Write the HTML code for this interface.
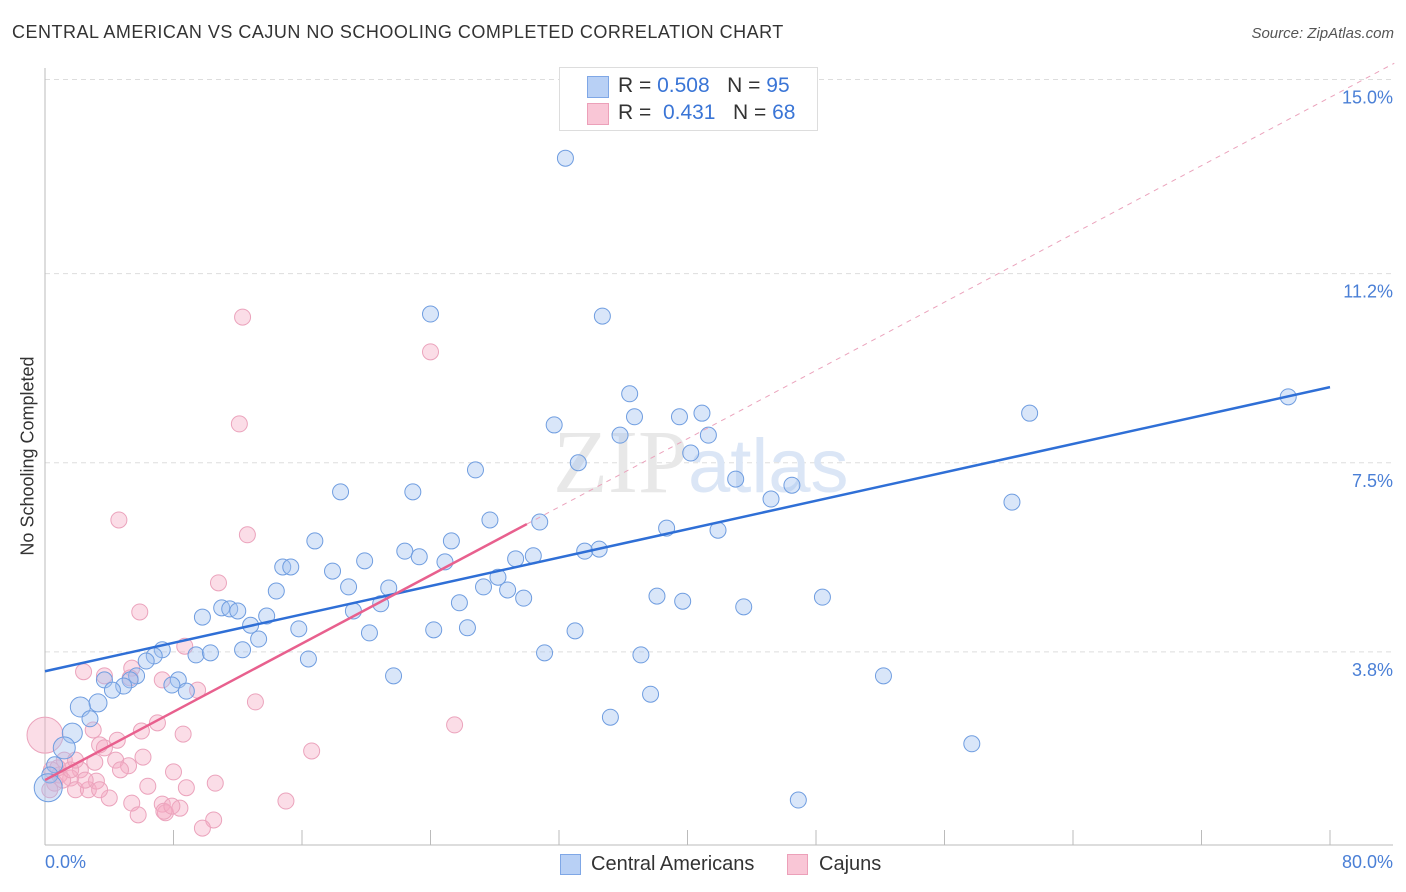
<!DOCTYPE html>
<html><head><meta charset="utf-8"><style>
body{margin:0;background:#fff;font-family:"Liberation Sans",sans-serif;}
#wrap{position:relative;width:1406px;height:892px;overflow:hidden;}
.t{position:absolute;white-space:nowrap;}
</style></head><body>
<div id="wrap">
<div class="t" style="left:12px;top:22px;font-size:18px;color:#333;letter-spacing:0.5px;">CENTRAL AMERICAN VS CAJUN NO SCHOOLING COMPLETED CORRELATION CHART</div>
<div class="t" style="right:12px;top:25px;font-size:15px;color:#555;font-style:italic;">Source: ZipAtlas.com</div>
<svg id="svg" width="1406" height="892" style="position:absolute;left:0;top:0"></svg>
<div class="t" style="left:28px;top:456px;font-size:18px;color:#333;transform:translate(-50%,-50%) rotate(-90deg);">No Schooling Completed</div>
<div class="t" style="left:45px;top:852px;font-size:18px;color:#4a7fd6;">0.0%</div>
<div class="t" style="right:13px;top:852px;font-size:18px;color:#4a7fd6;">80.0%</div>
<div style="position:absolute;left:559px;top:67px;width:257px;height:62px;border:1px solid #ddd;background:#fff;">
 <div style="position:absolute;left:27px;top:8px;width:20px;height:20px;background:#b8d0f5;border:1px solid #7fa7e6;"></div>
 <div class="t" style="left:58px;top:6px;font-size:21px;color:#333;">R = <span style="color:#3a75d6">0.508</span>&nbsp;&nbsp;&nbsp;N = <span style="color:#3a75d6">95</span></div>
 <div style="position:absolute;left:27px;top:35px;width:20px;height:20px;background:#f9c6d6;border:1px solid #eca0b9;"></div>
 <div class="t" style="left:58px;top:33px;font-size:21px;color:#333;">R = &nbsp;<span style="color:#3a75d6">0.431</span>&nbsp;&nbsp;&nbsp;N = <span style="color:#3a75d6">68</span></div>
</div>
<div style="position:absolute;left:560px;top:853px;">
 <div style="position:absolute;left:0;top:1px;width:19px;height:19px;background:#b8d0f5;border:1px solid #7fa7e6;"></div>
 <div class="t" style="left:31px;top:0;font-size:20px;color:#333;">Central Americans</div>
 <div style="position:absolute;left:227px;top:1px;width:19px;height:19px;background:#f9c6d6;border:1px solid #eca0b9;"></div>
 <div class="t" style="left:259px;top:0;font-size:20px;color:#333;">Cajuns</div>
</div>
</div>
<script>
const blueX=[32.4,24.0,34.7,36.4,31.7,36.7,35.8,39.5,40.9,41.3,40.2,33.2,26.8,43.0,45.2,46.5,61.3,77.4,60.2,18.4,22.9,27.7,30.8,38.7,41.9,16.8,22.4,23.3,25.3,19.9,24.9,29.3,30.4,33.6,34.5,14.8,15.3,17.9,28.2,18.9,21.4,27.3,28.8,14.4,38.1,39.7,48.4,43.5,29.8,25.8,20.9,19.2,9.8,11.0,11.5,12.0,13.8,12.8,15.8,24.2,26.3,20.2,13.3,33.0,7.3,6.8,6.3,9.4,10.3,12.3,16.4,31.1,37.1,5.7,5.3,3.7,4.9,8.3,7.9,8.8,4.2,3.3,2.2,2.8,1.7,1.2,21.7,37.7,35.2,52.2,57.7,46.9,0.6,0.3,0.2];
const blueY=[13.46,10.41,10.37,8.85,8.24,8.40,8.04,8.40,8.47,8.04,7.69,7.50,7.36,7.18,6.79,7.06,8.47,8.79,6.73,6.93,6.93,6.38,6.34,6.22,6.18,5.97,5.77,5.66,5.97,5.58,5.56,5.62,5.68,5.77,5.81,5.46,5.46,5.38,5.26,5.07,5.05,5.07,5.01,4.99,4.89,4.79,4.87,4.68,4.85,4.76,4.74,4.60,4.48,4.66,4.64,4.60,4.50,4.32,4.25,4.23,4.27,4.17,4.05,4.21,3.84,3.72,3.62,3.74,3.78,3.84,3.66,3.78,3.74,3.33,3.25,3.25,3.13,3.25,3.15,3.03,3.05,2.80,2.72,2.49,2.21,1.92,3.33,2.97,2.52,3.33,2.00,0.90,1.59,1.39,1.14];
const pinkX=[12.3,24.0,12.1,4.6,12.6,10.8,5.9,8.7,2.4,3.7,5.4,5.3,7.3,9.5,13.1,25.5,16.6,3.0,4.5,7.0,6.0,8.6,3.4,3.7,4.4,5.2,6.1,3.1,2.2,1.6,0.9,0.6,0.0,1.2,1.9,2.7,3.2,2.5,4.0,5.4,6.4,8.0,8.8,10.6,7.3,7.5,8.4,5.8,7.4,7.9,10.5,9.8,15.0,0.4,0.8,1.1,1.6,4.7,3.4,0.3,1.9];
const pinkY=[10.35,9.67,8.26,6.38,6.09,5.15,4.58,3.91,3.41,3.33,3.48,3.29,3.25,3.05,2.82,2.37,1.86,2.27,2.07,2.41,2.25,2.19,1.98,1.92,1.68,1.57,1.74,1.64,1.49,1.33,1.39,1.23,2.17,1.68,1.10,1.10,1.27,1.29,0.94,0.84,1.17,1.45,1.14,1.23,0.82,0.65,0.74,0.61,0.68,0.78,0.51,0.35,0.88,1.49,1.53,1.29,1.49,1.49,1.10,1.10,1.68];
const blueR=new Array(blueX.length).fill(8);blueR[94]=14;blueR[85]=11;blueR[84]=10;blueR[82]=10;blueR[81]=9;
const pinkR=new Array(pinkX.length).fill(8);pinkR[32]=18;
const yTicks=[3.8,7.5,11.2,15.0];
const yTickLabels=["3.8%","7.5%","11.2%","15.0%"];
const blueTrend=[[0,3.42],[80,8.98]];
const pinkTrend=[[0,1.29],[30,6.3]];
const xs=v=>45+v*1285/80, ys=v=>846-v*51.1;
const svg=document.getElementById('svg');const NS='http://www.w3.org/2000/svg';
function mk(t,a){const e=document.createElementNS(NS,t);for(const k in a)e.setAttribute(k,a[k]);svg.appendChild(e);return e;}
yTicks.forEach((v,i)=>{
 const g=mk('line',{x1:45,x2:1393,y1:ys(v),y2:ys(v),stroke:'#ddd','stroke-dasharray':'5,4'});
 
 
 const t=mk('text',{x:1393,y:ys(v)+24,'text-anchor':'end','font-size':18,fill:'#4a7fd6','font-family':'Liberation Sans'});
 t.textContent=yTickLabels[i];
 
 
});
const wm=mk('text',{x:553,y:492,'font-size':90,fill:'#e8e8e8','font-family':'Liberation Serif'});
wm.innerHTML='ZIP<tspan font-family="Liberation Sans" fill="#dbe6f6" font-size="76">atlas</tspan>';


const ax=mk('line',{x1:45,x2:45,y1:68,y2:845,stroke:'#bbb'});


const bx=mk('line',{x1:45,x2:1393,y1:845,y2:845,stroke:'#bbb'});


for(let i=0;i<=10;i++){const tk=mk('line',{x1:xs(i*8),x2:xs(i*8),y1:830,y2:845,stroke:'#bbb'});
 
 }
pinkX.forEach((x,i)=>{const c=mk('circle',{cx:xs(x),cy:ys(pinkY[i]),r:pinkR[i],fill:'rgba(245,170,195,0.4)',stroke:'#eba3bc','stroke-width':1});
 
 });
blueX.forEach((x,i)=>{const c=mk('circle',{cx:xs(x),cy:ys(blueY[i]),r:blueR[i],fill:'rgba(160,192,240,0.4)',stroke:'#6f9de0','stroke-width':1});
 
 });
const slope=(pinkTrend[1][1]-pinkTrend[0][1])/(pinkTrend[1][0]-pinkTrend[0][0]);
const ext=mk('line',{x1:xs(pinkTrend[1][0]),y1:ys(pinkTrend[1][1]),x2:xs(84),y2:ys(pinkTrend[0][1]+slope*84),stroke:'#eba3bc','stroke-dasharray':'5,5'});


const bl=mk('line',{x1:xs(blueTrend[0][0]),y1:ys(blueTrend[0][1]),x2:xs(blueTrend[1][0]),y2:ys(blueTrend[1][1]),stroke:'#2f6fd6','stroke-width':2.5});


const pl=mk('line',{x1:xs(pinkTrend[0][0]),y1:ys(pinkTrend[0][1]),x2:xs(pinkTrend[1][0]),y2:ys(pinkTrend[1][1]),stroke:'#e8608e','stroke-width':2.5});


</script>
</body></html>
